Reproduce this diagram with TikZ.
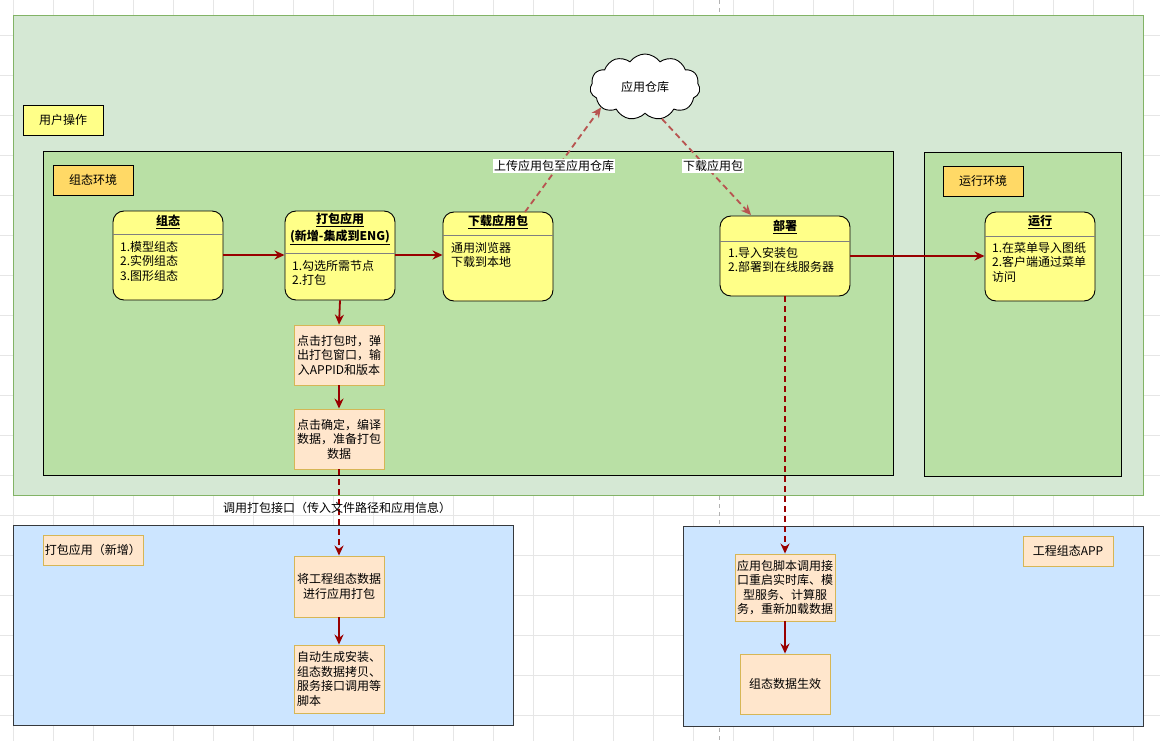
\documentclass[tikz,border=0pt]{standalone}
\usepackage{fontspec}
\setmainfont{Noto Sans CJK SC}
\usetikzlibrary{shapes.symbols,arrows.meta}
\definecolor{outergreen}{HTML}{D5E8D4}
\definecolor{outergreenB}{HTML}{82B366}
\definecolor{innergreen}{HTML}{B9E0A5}
\definecolor{yel}{HTML}{FFFF88}
\definecolor{orangeL}{HTML}{FFD966}
\definecolor{proc}{HTML}{FFE6CC}
\definecolor{procB}{HTML}{D6B656}
\definecolor{blueR}{HTML}{CCE5FF}
\definecolor{blueB}{HTML}{36393D}
\definecolor{arr}{HTML}{990000}
\definecolor{arrL}{HTML}{B85450}
\definecolor{gridc}{HTML}{E6E6E6}
\tikzset{
  region/.style={draw=#1, line width=0.9pt, anchor=north west, inner sep=0pt},
  lbl/.style={draw=black, line width=0.8pt, fill=#1, minimum height=30pt, inner sep=0pt, font=\fontsize{12}{14}\selectfont},
  statebox/.style={draw=black, line width=0.9pt, fill=yel, rounded corners=11pt, inner sep=0pt},
  procbox/.style={draw=procB, line width=0.9pt, fill=proc, inner sep=2pt, align=center, font=\fontsize{12}{14.5}\selectfont},
  sep/.style={draw=gray, line width=0.9pt},
  ttl/.style={font=\bfseries\fontsize{12}{14.5}\selectfont, inner sep=0pt},
  body/.style={font=\fontsize{12}{14.5}\selectfont, align=left, anchor=north west, inner sep=0pt},
  flow/.style={draw=arr, line width=1.8pt, -{Stealth[length=10pt,width=9pt]}},
  dflow/.style={flow, dash pattern=on 6pt off 4pt},
  lflow/.style={draw=arrL, line width=1.8pt, dash pattern=on 6pt off 4pt, -{Stealth[length=10pt,width=9pt]}},
  elabel/.style={font=\fontsize{12}{14}\selectfont, inner sep=1pt}
}
\begin{document}
\begin{tikzpicture}[x=1pt,y=-1pt]
\useasboundingbox (0,0) rectangle (1160,741);
\fill[white] (0,0) rectangle (1160,741);
% grid
\foreach \gx in {13.3,53.3,...,1160} \draw[gridc, line width=0.6pt] (\gx,0) -- (\gx,741);
\foreach \gy in {-5,35,...,741} \draw[gridc, line width=0.6pt] (0,\gy) -- (1160,\gy);
\draw[gray!60, line width=0.7pt, dash pattern=on 4pt off 4pt] (719,0) -- (719,741);

% regions
\node[region=outergreenB, fill=outergreen, minimum width=1130pt, minimum height=480pt] (user) at (13,15) {};
\node[region=black, fill=innergreen, minimum width=850pt, minimum height=324pt] (cfgenv) at (43,151) {};
\node[region=black, fill=innergreen, minimum width=197pt, minimum height=324pt] (runenv) at (924,152) {};
\node[region=blueB, fill=blueR, minimum width=500pt, minimum height=200pt] (pkgreg) at (13,525) {};
\node[region=blueB, fill=blueR, minimum width=460pt, minimum height=200pt] (appreg) at (683,526) {};

% labels
\node[lbl=yel, minimum width=80pt] (userlbl) at (63,120) {用户操作};
\node[lbl=orangeL, minimum width=80pt] (cfglbl) at (93,180) {组态环境};
\node[lbl=orangeL, minimum width=80pt] (runlbl) at (983,181) {运行环境};
\node[lbl=proc, draw=procB, minimum width=100pt] (pkglbl) at (93,550) {打包应用（新增）};
\node[lbl=proc, draw=procB, minimum width=90pt] (applbl) at (1068,551) {工程组态APP};

% state: 组态
\node[statebox, minimum width=110pt, minimum height=89pt] (zt) at (168,255.5) {};
\draw[sep] (113,234) -- (223,234);
\node[ttl] (zttitle) at (168,222) {\underline{组态}};
\node[body] (ztbody) at (120,241) {1.模型组态\\2.实例组态\\3.图形组态};

% state: 打包应用
\node[statebox, minimum width=110pt, minimum height=89pt] (db) at (340,255.5) {};
\draw[sep] (285,253) -- (395,253);
\node[ttl] (dbtitle) at (340,220) {\underline{打包应用}};
\node[ttl] (dbtitle2) at (340,237) {\underline{(新增-集成到ENG)}};
\node[body] (dbbody) at (292,260) {1.勾选所需节点\\2.打包};

% state: 下载应用包
\node[statebox, minimum width=110pt, minimum height=89pt] (xz) at (498,256.5) {};
\draw[sep] (443,235) -- (553,235);
\node[ttl] (xztitle) at (498,222) {\underline{下载应用包}};
\node[body] (xzbody) at (451,242) {通用浏览器\\下载到本地};

% state: 部署
\node[statebox, minimum width=130pt, minimum height=80pt] (bs) at (785,256) {};
\draw[sep] (720,241) -- (850,241);
\node[ttl] (bstitle) at (785,227) {\underline{部署}};
\node[body] (bsbody) at (728,247) {1.导入安装包\\2.部署到在线服务器};

% state: 运行
\node[statebox, minimum width=110pt, minimum height=89pt] (yx) at (1040,256.5) {};
\draw[sep] (985,236) -- (1095,236);
\node[ttl] (yxtitle) at (1040,222) {\underline{运行}};
\node[body] (yxbody) at (992,242) {1.在菜单导入图纸\\2.客户端通过菜单\\访问};

% cloud
\node[cloud, cloud puffs=11, cloud puff arc=110, aspect=1.7, draw=black, line width=0.9pt, fill=white, minimum width=110pt, minimum height=66pt, inner sep=0pt, font=\fontsize{12}{14}\selectfont] (repo) at (645,87) {应用仓库};

% process boxes
\node[procbox, minimum width=90pt, minimum height=60pt] (p1) at (339,355) {点击打包时，弹\\出打包窗口，输\\入APPID和版本};
\node[procbox, minimum width=90pt, minimum height=60pt] (p2) at (339,439) {点击确定，编译\\数据，准备打包\\数据};
\node[procbox, minimum width=90pt, minimum height=61pt] (p3) at (339,586.5) {将工程组态数据\\进行应用打包};
\node[procbox, minimum width=90pt, minimum height=68pt, align=left] (p4) at (339,679) {自动生成安装、\\组态数据拷贝、\\服务接口调用等\\脚本};
\node[procbox, minimum width=100pt, minimum height=67pt, inner sep=0pt] (q1) at (785,587.5) {应用包脚本调用接\\口重启实时库、模\\型服务、计算服\\务，重新加载数据};
\node[procbox, minimum width=90pt, minimum height=60pt] (q2) at (785,684) {组态数据生效};

% connectors
\draw[flow] (zt.east |- 0,255) -- (db.west |- 0,255);
\draw[flow] (db.east |- 0,255) -- (xz.west |- 0,255);
\draw[flow] (db.south) -- (p1.north);
\draw[flow] (p1.south) -- (p2.north);
\draw[dflow] (p2.south) -- (p3.north);
\node[elabel] (lblcall) at (337,508) {调用打包接口（传入文件路径和应用信息）};
\draw[flow] (p3.south) -- (p4.north);
\draw[lflow] (525,212) -- (repo.205);
\node[elabel, fill=white] (lblup) at (554,166) {上传应用包至应用仓库};
\draw[lflow] (repo.-62) -- (751,215);
\node[elabel, fill=white] (lbldown) at (713,166) {下载应用包};
\draw[flow] (bs.east |- 0,256) -- (yx.west |- 0,256);
\draw[dflow] (bs.south) -- (q1.north);
\draw[flow] (q1.south) -- (q2.north);
\end{tikzpicture}
\end{document}
